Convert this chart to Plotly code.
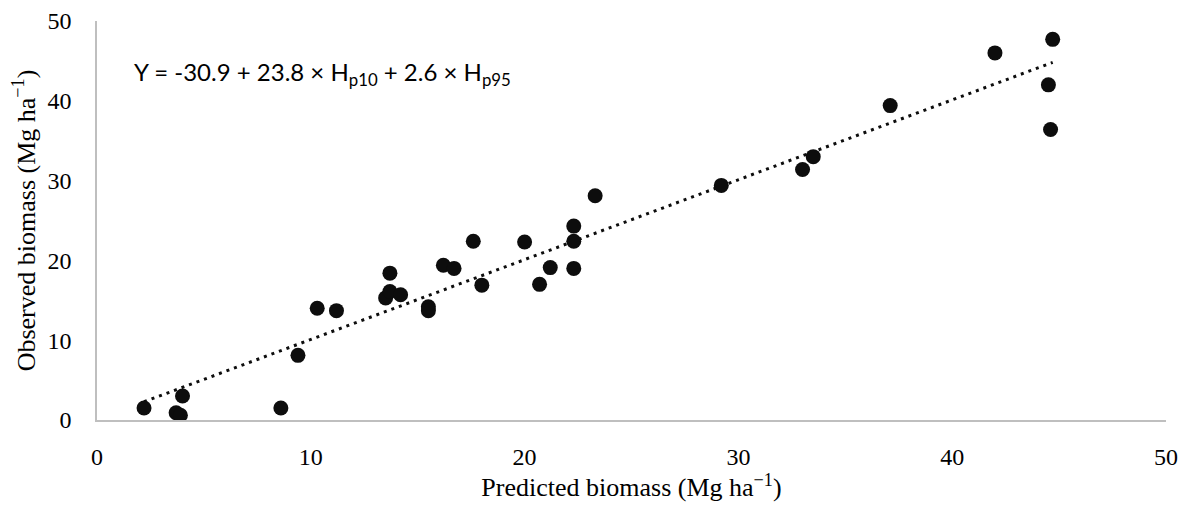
import numpy as np
import plotly.graph_objects as go

predicted = [2.2, 3.7, 3.9, 4.0, 8.6, 9.4, 10.3, 11.2, 13.5, 13.7, 13.7, 14.2, 15.5, 15.5,
             16.2, 16.7, 17.6, 18.0, 20.0, 20.7, 21.2, 22.3, 22.3, 22.3, 23.3, 29.2, 33.0,
             33.5, 37.1, 42.0, 44.5, 44.6, 44.7]
observed = [1.5, 0.9, 0.6, 3.0, 1.5, 8.1, 14.0, 13.7, 15.3, 18.4, 16.1, 15.7, 14.2, 13.7,
            19.4, 19.0, 22.4, 16.9, 22.3, 17.0, 19.1, 24.3, 22.4, 19.0, 28.1, 29.4, 31.4,
            33.0, 39.4, 46.0, 42.0, 36.4, 47.7]
tick_vals = [0, 10, 20, 30, 40, 50]
equation = "Y = -30.9 + 23.8 × H<sub>p10</sub> + 2.6 × H<sub>p95</sub>"

slope, intercept = np.polyfit(predicted, observed, 1)
fit_x = [min(predicted), max(predicted)]
fit_y = [slope * v + intercept for v in fit_x]

serif = "Liberation Serif"

fig = go.Figure()
fig.add_trace(go.Scatter(
    x=fit_x, y=fit_y, mode="lines",
    line=dict(color="#0d0d0d", width=3, dash="3px,5px"),
    hoverinfo="skip", showlegend=False))
fig.add_trace(go.Scatter(
    x=predicted, y=observed, mode="markers",
    marker=dict(color="#0d0d0d", size=15, line=dict(width=0)),
    showlegend=False))

fig.add_annotation(x=1.65, y=43.4, xref="x", yref="y", text=equation,
                   showarrow=False, xanchor="left", yanchor="middle",
                   font=dict(family="Lato, Open Sans, sans-serif", size=24, color="#000000"))

axis_common = dict(
    range=[0, 50], tickvals=tick_vals, ticktext=[str(v) for v in tick_vals],
    showgrid=False, zeroline=False, showline=True, linecolor="#bfbfbf", linewidth=1.5,
    ticks="", automargin=False,
    tickfont=dict(family=serif, size=24, color="#000000"),
    title_font=dict(family=serif, size=26, color="#000000"),
)

fig.update_xaxes(**axis_common, title_text="Predicted biomass (Mg ha<sup>−1</sup>)",
                 ticklabelstandoff=14, title_standoff=6)
fig.update_yaxes(**axis_common, title_text="Observed biomass (Mg ha<sup>−1</sup>)",
                 ticklabelstandoff=19, title_standoff=5)

# the page body has an 8px default margin, so the figure is sized to fit the window
fig.update_layout(
    width=1184, height=505,
    margin=dict(l=89, r=26, t=13, b=93),
    plot_bgcolor="white", paper_bgcolor="white",
)

fig.write_html("out.html")
